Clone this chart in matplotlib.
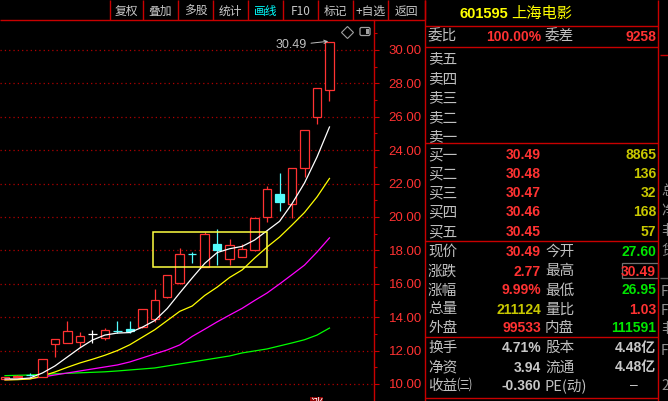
import matplotlib
matplotlib.use('Agg')
import matplotlib.pyplot as plt
from matplotlib.patches import Rectangle, FancyBboxPatch

W, H = 668, 401

# ---------------- data ----------------
opens  = [10.30, 10.44, 10.56, 10.42, 12.40, 12.46, 12.51, 12.99, 12.75, 13.18, 13.29, 13.41, 13.89, 15.21,
          16.05, 17.80, 17.01, 18.38, 17.49, 17.60, 18.02, 20.00, 21.38, 20.78, 22.93, 25.99, 27.60]
highs  = [10.42, 10.52, 10.66, 11.52, 12.72, 13.77, 13.11, 13.23, 13.35, 13.77, 13.77, 14.52, 15.69, 16.55,
          18.14, 17.90, 19.10, 19.28, 18.68, 18.38, 19.96, 21.86, 22.63, 22.95, 25.21, 27.72, 30.49]
lows   = [10.30, 10.40, 10.50, 10.40, 11.62, 12.46, 12.22, 12.46, 12.63, 13.05, 13.05, 13.35, 13.71, 15.15,
          16.00, 17.25, 17.00, 17.13, 17.13, 17.58, 17.96, 19.70, 20.36, 19.94, 22.40, 25.57, 26.95]
closes = [10.42, 10.46, 10.55, 11.50, 12.69, 13.17, 12.87, 12.99, 13.23, 13.17, 13.17, 14.49, 15.03, 16.53,
          17.78, 17.78, 18.98, 18.02, 18.32, 18.08, 19.94, 21.68, 20.90, 22.93, 25.21, 27.72, 30.49]

ma5  = [10.30, 10.30, 10.36, 10.66, 11.08, 11.62, 12.16, 12.63, 12.93, 13.05, 13.08, 13.40, 13.80, 14.52,
        15.45, 16.35, 17.22, 17.87, 18.10, 18.24, 18.62, 19.18, 19.74, 20.80, 22.04, 23.59, 25.39]
ma10 = [10.24, 10.26, 10.30, 10.48, 10.72, 11.00, 11.26, 11.48, 11.72, 12.00, 12.35, 12.80, 13.25, 13.80,
        14.35, 14.67, 15.30, 15.80, 16.38, 16.83, 17.54, 18.20, 18.80, 19.52, 20.27, 21.20, 22.31]
ma20 = [10.26, 10.28, 10.32, 10.42, 10.54, 10.66, 10.78, 10.90, 11.02, 11.14, 11.32, 11.56, 11.80, 12.04,
        12.34, 12.85, 13.28, 13.72, 14.13, 14.53, 15.00, 15.45, 15.99, 16.55, 17.12, 17.90, 18.75]
ma60 = [10.50, 10.52, 10.54, 10.58, 10.61, 10.64, 10.67, 10.70, 10.73, 10.78, 10.84, 10.90, 10.96, 11.08,
        11.20, 11.32, 11.44, 11.56, 11.68, 11.86, 11.98, 12.10, 12.28, 12.46, 12.65, 12.93, 13.35]

y_ticks = [10, 12, 14, 16, 18, 20, 22, 24, 26, 28, 30]
toolbar_labels = ['复权', '叠加', '多股', '统计', '画线', 'F10', '标记', '+自选', '返回']

stock_code = '601595'
stock_name = '上海电影'
weibi_labels = ['委比', '委差']
weibi_vals = ['100.00%', '9258']
sell_labels = ['卖五', '卖四', '卖三', '卖二', '卖一']
buy_labels = ['买一', '买二', '买三', '买四', '买五']
buy_prices = [30.49, 30.48, 30.47, 30.46, 30.45]
buy_vols = [8865, 136, 32, 168, 57]
quote_left_labels = ['现价', '涨跌', '涨幅', '总量', '外盘']
quote_left_vals = ['30.49', '2.77', '9.99%', '211124', '99533']
quote_right_labels = ['今开', '最高', '最低', '量比', '内盘']
quote_right_vals = ['27.60', '30.49', '26.95', '1.03', '111591']
fin_left_labels = ['换手', '净资', '收益㈢']
fin_left_vals = ['4.71%', '3.94', '-0.360']
fin_right_labels = ['股本', '流通', 'PE(动)']
fin_right_vals = ['4.48亿', '4.48亿', '—']

# ---------------- styles ----------------
RED = '#ff3232'
CYAN = '#54fcfc'
LINE_RED = '#c80000'
GRAY = '#c0c0c0'
GREEN = '#00e600'
VOLY = '#c8c800'
CJK = ['Noto Sans CJK SC', 'DejaVu Sans']
NUM = ['Liberation Sans', 'Noto Sans CJK SC', 'DejaVu Sans']

fig = plt.figure(figsize=(W / 100, H / 100), dpi=100, facecolor='black')

# ---------------- main K-line axes ----------------
px_per_bar = 12.48
x0px = 5.0
ax_right_px = 374
ax = fig.add_axes([0, 0, ax_right_px / W, (H - 20) / H])
ax.set_facecolor('black')
ax.set_xlim((0 - x0px) / px_per_bar, (ax_right_px - x0px) / px_per_bar)
ax.set_ylim(30 - (H - 50) / 16.7, 30 + 30 / 16.7)
for s in ['left', 'top', 'bottom']:
    ax.spines[s].set_visible(False)
ax.spines['right'].set_color(LINE_RED)
ax.spines['right'].set_linewidth(1.0)
ax.set_xticks([])
ax.yaxis.tick_right()
ax.set_yticks(y_ticks)
ax.set_yticklabels([f'{v:.2f}' for v in y_ticks], fontfamily='Liberation Sans')
ax.set_yticks([v + 1 for v in y_ticks], minor=True)
ax.tick_params(axis='y', which='major', colors=LINE_RED, labelcolor=RED, length=3.6,
               width=0.8, pad=7, labelsize=9.5)
ax.tick_params(axis='y', which='minor', colors=LINE_RED, length=1.8, width=0.8)

xmin, xmax = ax.get_xlim()
ax.hlines(y_ticks, xmin, xmax - 0.15, colors='#b00000', linewidth=0.9,
          linestyles=[(0, (1, 2.45))], zorder=1)

w = 0.68
for i, (o, h, l, c) in enumerate(zip(opens, highs, lows, closes)):
    if c > o:
        col = RED
    elif c < o:
        col = CYAN
    else:
        col = 'white'
    top, bot = max(o, c), min(o, c)
    if h > top:
        ax.vlines(i, top, h, colors=col, linewidth=0.9, zorder=3)
    if l < bot:
        ax.vlines(i, l, bot, colors=col, linewidth=0.9, zorder=3)
    if c > o:
        ax.add_patch(Rectangle((i - w / 2, bot), w, top - bot, facecolor='black',
                               edgecolor=col, linewidth=0.9, zorder=4))
    elif c < o:
        ax.add_patch(Rectangle((i - w / 2, bot), w, top - bot, facecolor=col,
                               edgecolor=col, linewidth=0.9, zorder=4))
    else:
        ax.hlines(c, i - w / 2, i + w / 2, colors=col, linewidth=0.9, zorder=4)

xs = list(range(len(closes)))
ax.plot(xs, ma60, color='#00ff00', lw=0.9, zorder=2)
ax.plot(xs, ma20, color='#ff00ff', lw=0.9, zorder=2)
ax.plot(xs, ma10, color='#ffff00', lw=0.9, zorder=2)
ax.plot(xs, ma5, color='white', lw=0.9, zorder=5)

# user-drawn box
ax.add_patch(Rectangle((11.86, 17.01), 21.0 - 11.86, 19.10 - 17.01, fill=False,
                       edgecolor='#ffff40', linewidth=1.1, zorder=6))

# latest high annotation
ax.annotate(f'{highs[-1]:.2f}', xy=(len(closes) - 1 - 0.1, highs[-1] + 0.03),
            xytext=(-37 * 0.72, -4 * 0.72), textcoords='offset points',
            ha='center', va='center', color=GRAY, fontsize=9, fontfamily='Liberation Sans',
            arrowprops=dict(arrowstyle='->', color=GRAY, lw=0.7, shrinkA=1, shrinkB=0,
                            mutation_scale=6), zorder=7)

# ---------------- overlay in pixel coords ----------------
ov = fig.add_axes([0, 0, 1, 1], zorder=10)
ov.set_xlim(0, W)
ov.set_ylim(H, 0)
ov.axis('off')
ov.patch.set_alpha(0)


def hl(y, x1, x2, c=LINE_RED, lw=1.0):
    ov.plot([x1, x2], [y, y], color=c, lw=lw, solid_capstyle='butt')


def vl(x, y1, y2, c=LINE_RED, lw=1.0):
    ov.plot([x, x], [y1, y2], color=c, lw=lw, solid_capstyle='butt')


def txt(x, y, s, color, ha='left', size=10.5, fam=CJK, weight='normal'):
    ov.text(x, y + 5, s, color=color, ha=ha, va='baseline', fontsize=size,
            fontfamily=fam, fontweight=weight)


# toolbar
seps = [110, 143, 178, 213, 248, 283, 318, 353, 388, 425]
hl(20, 0, 425)
for sx in seps:
    vl(sx, 0, 20)
for k, lab in enumerate(toolbar_labels):
    cx = (seps[k] + seps[k + 1]) / 2
    ov.text(cx, 15, lab, color='#00ffff' if lab == '画线' else '#c8c8c8', ha='center',
            va='baseline', fontsize=8.5, fontfamily=['Noto Sans CJK SC', 'DejaVu Sans'])

# icons
ov.plot([347], [31.5], marker='D', markersize=6, markerfacecolor='none',
        markeredgecolor='#a0a0a0', markeredgewidth=0.8)
ov.add_patch(FancyBboxPatch((360, 27.5), 10, 8, boxstyle='round,pad=0,rounding_size=1.5',
                            facecolor='none', edgecolor='#a0a0a0', lw=0.9))
ov.add_patch(Rectangle((365.5, 29), 3, 5, facecolor='#a0a0a0', edgecolor='none'))

# right panel frame
vl(425, 0, H)
vl(658, 0, H)
for yy in [26, 47, 143, 241, 337, 398]:
    hl(yy, 425, 658)

LX, MV, RL, RV = 428, 541, 545, 656

txt(460, 13, stock_code, '#ffff00', size=10.5, fam=NUM, weight='bold')
txt(511, 13, stock_name, '#ffff00', size=11)

txt(LX, 36, weibi_labels[0], GRAY)
txt(MV, 36, weibi_vals[0], RED, ha='right', size=10, fam=NUM, weight='bold')
txt(RL, 36, weibi_labels[1], GRAY)
txt(RV, 36, weibi_vals[1], RED, ha='right', size=10, fam=NUM, weight='bold')

sell_y = [58, 78, 97.5, 117, 136]
for lab, yy in zip(sell_labels, sell_y):
    txt(LX, yy, lab, GRAY)

buy_y = [154, 173, 192, 211.5, 231]
for lab, p, v, yy in zip(buy_labels, buy_prices, buy_vols, buy_y):
    txt(LX, yy, lab, GRAY)
    txt(MV, yy, f'{p:.2f}', RED, ha='right', size=10, fam=NUM, weight='bold')
    txt(RV, yy, str(v), VOLY, ha='right', size=10, fam=NUM, weight='bold')

q_y = [251, 270.5, 289.5, 308.5, 327]
left_cols = [RED, RED, RED, VOLY, RED]
right_cols = [GREEN, RED, GREEN, RED, GREEN]
for k, yy in enumerate(q_y):
    txt(LX, yy, quote_left_labels[k], GRAY)
    txt(MV, yy, quote_left_vals[k], left_cols[k], ha='right', size=10, fam=NUM, weight='bold')
    txt(RL, yy, quote_right_labels[k], GRAY)
    txt(RV, yy, quote_right_vals[k], right_cols[k], ha='right', size=10, fam=NUM, weight='bold')
ov.add_patch(Rectangle((622, 263), 36, 15, facecolor='none', edgecolor='#707070', lw=0.9))

f_y = [347, 366.5, 385]
for k, yy in enumerate(f_y):
    txt(LX, yy, fin_left_labels[k], GRAY)
    txt(MV, yy, fin_left_vals[k], '#c8c8c8', ha='right', size=10, fam=NUM, weight='bold')
    txt(RL, yy, fin_right_labels[k], GRAY, fam=['Noto Sans CJK SC', 'DejaVu Sans'])
    if fin_right_vals[k] == '—':
        txt(634, yy - 1, '–', '#c8c8c8', ha='center', size=10, fam=NUM)
    else:
        txt(RV, yy, fin_right_vals[k], '#c8c8c8', ha='right', size=10, fam=NUM, weight='bold')

# clipped neighbouring panel at the far right
hl(55, 660, 668)
hl(278, 660, 668, c='#606060')
for s, yy in [('总', 190), ('净', 210), ('非', 230), ('货', 250), ('F', 291), ('F', 310),
              ('非', 328), ('F', 350), ('2', 385)]:
    ov.text(661, yy + 5, s, color='#909090', ha='left', va='baseline', fontsize=10,
            fontfamily=CJK, clip_on=True)

# bottom marker (clipped)
ov.add_patch(Rectangle((310, 396.5), 13, 6, facecolor='#8b0000', edgecolor='none'))
ov.text(316.5, 408, '涨', color='white', ha='center', va='baseline', fontsize=9,
        fontfamily=CJK, clip_on=True)

fig.savefig('out.png', dpi=100, facecolor='black')
